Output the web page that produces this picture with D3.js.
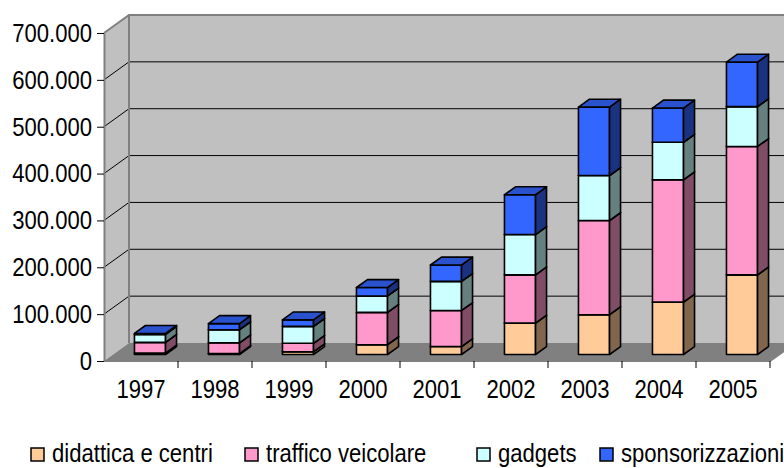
<!DOCTYPE html>
<html>
<head>
<meta charset="utf-8">
<script src="https://cdn.jsdelivr.net/npm/d3@7"></script>
<style>
   html, body { margin: 0; padding: 0; background: #fff; overflow: hidden; }
   svg { display: block; }
   text { font-family: "Liberation Sans", Arial, sans-serif; fill: #000; }
</style>
</head>
<body>
<svg id="chart"></svg>
<script>
const years = ["1997", "1998", "1999", "2000", "2001", "2002", "2003", "2004", "2005"];
const seriesNames = ["didattica e centri", "traffico veicolare", "gadgets", "sponsorizzazioni"];
const didattica = [3000, 2000, 6000, 21000, 17000, 67000, 85000, 112000, 170000];
const traffico = [23000, 23000, 18000, 69000, 77000, 103000, 201000, 261000, 274000];
const gadgets = [17000, 28000, 36000, 35000, 62000, 86000, 96000, 80000, 85000];
const sponsorizzazioni = [2000, 13000, 14000, 18000, 35000, 85000, 146000, 73000, 95000];
const yTicks = [0, 100000, 200000, 300000, 400000, 500000, 600000, 700000];

const width = 784, height = 468;
const colors = ["#FFCC99", "#FF99CC", "#CCFFFF", "#3366FF"];
const narrow = 0.85; // the original uses a condensed face

const svg = d3.select("#chart").attr("width", width).attr("height", height);

// plot box on the front plane, plus the depth shift of the back wall
const plotLeft = 104, plotRight = 770, plotTop = 33, plotBottom = 361;
const depthX = 25, depthY = -18;
const barFront = 0.36, barBack = 0.8;

const x = d3.scaleBand().domain(years).range([plotLeft, plotRight]);
const y = d3.scaleLinear().domain([0, 700000]).range([plotBottom, plotTop]);

const it = d3.formatLocale({ decimal: ",", thousands: ".", grouping: [3], currency: ["€", ""] });
const fmt = it.format(",d");

// project a front-plane point to a given depth (0 = front, 1 = back wall)
const P = (px, py, d) => [px + depthX * d, py + depthY * d];
const poly = pts => "M" + pts.map(p => p.join(",")).join("L") + "Z";
const shade = (c, k) => {
   const r = d3.rgb(c);
   return d3.rgb(r.r * k, r.g * k, r.b * k).formatHex();
};

const rows = years.map((yr, i) => ({
   year: yr,
   didattica: didattica[i],
   traffico: traffico[i],
   gadgets: gadgets[i],
   sponsorizzazioni: sponsorizzazioni[i]
}));
const stack = d3.stack().keys(["didattica", "traffico", "gadgets", "sponsorizzazioni"]);
const layers = stack(rows);

// ----------------------- walls and floor
const y0 = y(0), yTop = y(700000);
const farRight = plotRight + 40;
svg.append("path")
   .attr("d", poly([P(plotLeft, yTop, 0), P(plotLeft, yTop, 1), P(plotLeft, y0, 1), P(plotLeft, y0, 0)]))
   .attr("fill", "#C0C0C0");
svg.append("path")
   .attr("d", poly([P(plotLeft, yTop, 1), P(farRight, yTop, 1), P(farRight, y0, 1), P(plotLeft, y0, 1)]))
   .attr("fill", "#C0C0C0");
svg.append("path")
   .attr("d", poly([P(plotLeft, y0, 0), P(plotLeft, y0, 1), P(plotRight, y0, 1), P(plotRight, y0, 0)]))
   .attr("fill", "#808080");

// gridlines
yTicks.filter(v => v > 0 && v < 700000).forEach(v => {
   const a = P(plotLeft, y(v), 0), b = P(plotLeft, y(v), 1), c = P(farRight, y(v), 1);
   svg.append("path")
      .attr("d", `M${a}L${b}L${c}`)
      .attr("fill", "none")
      .attr("stroke", "#000")
      .attr("stroke-width", 1);
});

// wall edges
const tl = P(plotLeft, yTop, 1), bl = P(plotLeft, y0, 1);
svg.append("path")
   .attr("d", `M${P(plotLeft, yTop, 0)}L${tl}L${P(farRight, yTop, 1)}M${tl}L${bl}`)
   .attr("fill", "none")
   .attr("stroke", "#808080")
   .attr("stroke-width", 2);

// ----------------------- bars
const barW = x.bandwidth() * 0.42;

years.forEach(yr => {
   const cx = x(yr) + x.bandwidth() / 2;
   const x1 = cx - barW / 2, x2 = cx + barW / 2;
   layers.forEach((layer, si) => {
      const seg = layer.find(s => s.data.year === yr);
      const ya = y(seg[0]), yb = y(seg[1]);
      const g = svg.append("g")
         .attr("stroke", "#000")
         .attr("stroke-width", 1.6)
         .attr("stroke-linejoin", "round");
      // front
      g.append("path")
         .attr("d", poly([P(x1, ya, barFront), P(x2, ya, barFront), P(x2, yb, barFront), P(x1, yb, barFront)]))
         .attr("fill", colors[si]);
      // side
      g.append("path")
         .attr("d", poly([P(x2, ya, barFront), P(x2, ya, barBack), P(x2, yb, barBack), P(x2, yb, barFront)]))
         .attr("fill", shade(colors[si], 0.5));
      // top
      g.append("path")
         .attr("d", poly([P(x1, yb, barFront), P(x2, yb, barFront), P(x2, yb, barBack), P(x1, yb, barBack)]))
         .attr("fill", shade(colors[si], 0.8));
   });
});

// ----------------------- axes
const yAxis = svg.append("g")
   .attr("transform", `translate(${plotLeft},0)`)
   .call(d3.axisLeft(y).tickValues(yTicks).tickFormat(fmt).tickSize(7).tickSizeOuter(0).tickPadding(5));
yAxis.select(".domain").attr("stroke", "#808080").attr("stroke-width", 2);
yAxis.selectAll(".tick line").attr("stroke", "#000");
yAxis.selectAll("text")
   .attr("font-size", 26)
   .attr("font-family", null)
   .attr("x", -12 / narrow)
   .attr("transform", `scale(${narrow},1)`);

const xAxis = svg.append("g")
   .attr("transform", `translate(0,${plotBottom})`)
   .call(d3.axisBottom(x).tickSize(0).tickPadding(19));
xAxis.select(".domain").remove();
xAxis.selectAll("text")
   .attr("font-size", 26)
   .attr("font-family", null)
   .attr("transform", `scale(${narrow},1)`);

svg.append("path")
   .attr("d", `M${plotLeft},${plotBottom}L${plotRight},${plotBottom}L${P(plotRight, y0, 1)}`)
   .attr("fill", "none")
   .attr("stroke", "#808080")
   .attr("stroke-width", 2);
svg.selectAll(".xtick")
   .data(years.slice(1).map(d => x(d)).concat([plotRight]))
   .join("line")
   .attr("class", "xtick")
   .attr("x1", d => d).attr("x2", d => d)
   .attr("y1", plotBottom).attr("y2", plotBottom + 7)
   .attr("stroke", "#000");

// ----------------------- legend
const legendX = [31, 245, 477, 600];
const legend = svg.selectAll(".legend")
   .data(seriesNames)
   .join("g")
   .attr("class", "legend")
   .attr("transform", (_, i) => `translate(${legendX[i]},448)`);
legend.append("rect")
   .attr("width", 13).attr("height", 13)
   .attr("fill", (_, i) => colors[i])
   .attr("stroke", "#000")
   .attr("stroke-width", 1.5);
legend.append("text")
   .attr("transform", `translate(21,14) scale(${narrow},1)`)
   .attr("font-size", 26)
   .text(d => d);
</script>
</body>
</html>
